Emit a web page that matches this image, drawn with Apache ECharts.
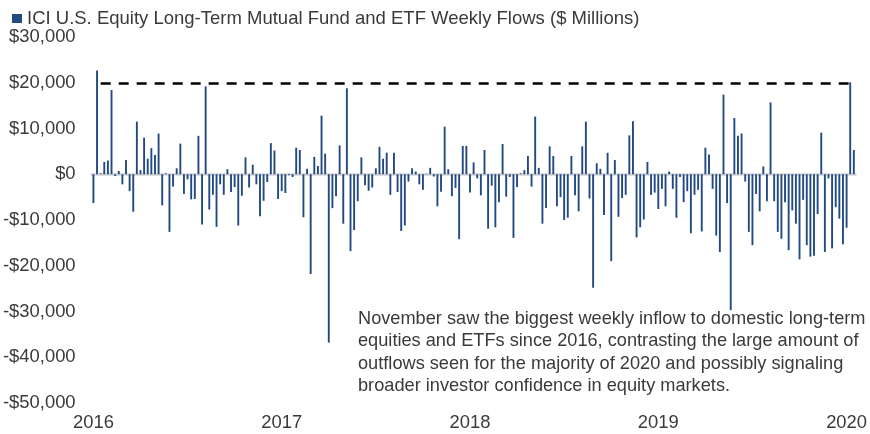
<!DOCTYPE html>
<html><head><meta charset="utf-8">
<script src="https://cdn.jsdelivr.net/npm/echarts@6/dist/echarts.min.js"></script>
<style>html,body{margin:0;padding:0;background:#fff}#c{width:870px;height:434px}</style>
</head><body><div id="c"></div>
<script>
var seriesName = 'ICI U.S. Equity Long-Term Mutual Fund and ETF Weekly Flows ($ Millions)';
var tickLabels = ['2016', '2017', '2018', '2019', '2020'];
var weeksPerLabel = 52;
var referenceLevel = 20000;
var flows2016 = [-6300,22700,200,2700,3000,18400,-400,700,-2200,3100,-3700,-8200,11500,900,8000,3400,5700,4200,8900,-6800,200,-12600,-2700,1300,6700,-4300,-1100,-5500,-5400,8400,-11000,19200,-7700,-4500,-11500,-2200,-4500,1100,-3900,-2800,-11200,-4700,3700,-2900,2100,-2200,-9200,-5800,-1700,6800,5200,-5400];
var flows2017 = [-3700,-4100,-200,-600,5800,5300,-9400,1200,-21800,3800,1800,12800,4500,-36800,-7400,-4800,6300,-10800,18800,-16800,-12200,-5900,3700,-2400,-3600,-2900,1300,6000,3400,4700,-4500,4700,-3900,-12400,-11200,-1600,1300,600,-2200,-3400,100,1400,-500,-7000,-3800,10400,1100,-4800,-3000,-14200,6200,6200];
var flows2018 = [-4000,2600,-900,-4600,5300,-11900,-2500,-11600,-6100,6600,-4900,-600,-13900,-2800,200,900,4000,-2700,12600,1400,-10800,-7400,6100,4000,-7000,-5000,-10000,-9500,4000,-4600,-8100,6100,11500,-5300,-24800,2400,1200,-8900,4700,-19000,3100,-9300,-5200,-4500,8500,11600,-13800,-11600,-9900,2700,-4500,-4000];
var flows2019 = [-7600,-3200,-7000,600,-3200,-9500,-600,-6100,-3700,-12900,-4500,-3400,-12500,5800,4300,-3200,-13400,-17000,17400,-6300,-29700,12300,8400,8900,-1600,-12600,-15500,-4300,-8100,1700,-5900,15700,-5900,-12600,-14100,-6100,-16600,-7900,-10800,-18600,-5600,-15500,-18000,-17800,-8700,9100,-17000,-900,-16200,-7200,-9700,-15300];
var flows2020 = [-11700,20100,5300];
var annotationLines = [
  'November saw the biggest weekly inflow to domestic long-term',
  'equities and ETFs since 2016, contrasting the large amount of',
  'outflows seen for the majority of 2020 and possibly signaling',
  'broader investor confidence in equity markets.'
];

var weeklyFlows = flows2016.concat(flows2017, flows2018, flows2019, flows2020);
var categories = [];
for (var i = 0; i < weeklyFlows.length; i++) categories.push('Week ' + (i + 1));

function money(v) {
  var s = Math.abs(v).toString().replace(/\B(?=(\d{3})+(?!\d))/g, ',');
  return (v < 0 ? '-$' : '$') + s;
}

var textColor = '#3a3a3a';
var font = 'Liberation Sans';
var chart = echarts.init(document.getElementById('c'), null, {renderer: 'canvas'});
chart.setOption({
  animation: false,
  backgroundColor: '#fff',
  textStyle: {fontFamily: font},
  legend: {
    left: 7, top: 4, itemWidth: 10, itemHeight: 9, itemGap: 4,
    icon: 'rect',
    textStyle: {fontSize: 18.5, color: textColor, fontFamily: font},
    data: [seriesName]
  },
  grid: {left: 89, right: 7.5, top: 37, bottom: 31, containLabel: false},
  xAxis: [{
    type: 'category', data: categories,
    axisLine: {show: true, onZero: true, lineStyle: {color: '#d3d3d3', width: 2.5}},
    axisTick: {show: false}, axisLabel: {show: false}, splitLine: {show: false}
  }, {
    type: 'category', data: categories, position: 'bottom',
    axisLine: {show: false, onZero: false}, axisTick: {show: false},
    axisLabel: {
      show: true, margin: 11, fontSize: 18.4, color: textColor, fontFamily: font,
      interval: function (idx) { return idx % weeksPerLabel === 0; },
      formatter: function (v, idx) { return tickLabels[idx / weeksPerLabel] || ''; }
    }
  }],
  yAxis: {
    type: 'value', min: -50000, max: 30000, interval: 10000,
    axisLine: {show: false}, axisTick: {show: false}, splitLine: {show: false},
    axisLabel: {margin: 16, fontSize: 18.4, color: textColor, fontFamily: font, formatter: money}
  },
  series: [{
    name: seriesName, type: 'bar', xAxisIndex: 0, data: weeklyFlows,
    barWidth: 1.9, itemStyle: {color: '#224a80'},
    markLine: {
      silent: true, symbol: 'none', label: {show: false},
      lineStyle: {color: '#000', type: [10, 8], width: 2.5},
      data: [[{coord: [2, referenceLevel]}, {coord: [weeklyFlows.length - 1, referenceLevel]}]]
    }
  }],
  graphic: [{
    type: 'text', left: 358, top: 308,
    style: {text: annotationLines.join('\n'), fontSize: 18.2, lineHeight: 22.3, fill: textColor, fontFamily: font}
  }]
});
</script></body></html>
